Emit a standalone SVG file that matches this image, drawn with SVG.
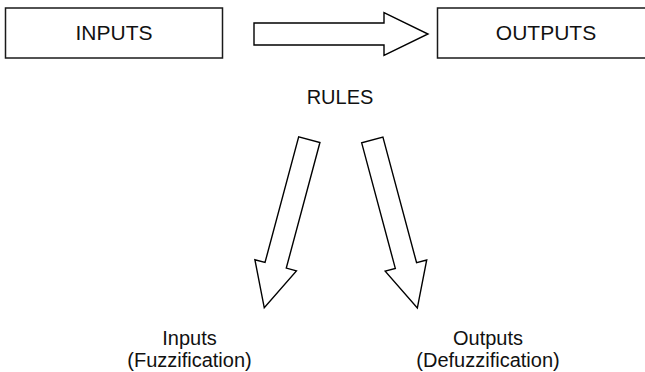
<svg xmlns="http://www.w3.org/2000/svg" width="645" height="372" viewBox="0 0 645 372">
  <style>
    .box { fill: #ffffff; stroke: #1a1a1a; stroke-width: 1.5; }
    .arrow { fill: #ffffff; stroke: #000000; stroke-width: 1.4; stroke-linejoin: miter; }
    text { font-family: "Liberation Sans", Arial, Helvetica, sans-serif; fill: #111111; text-anchor: middle; }
    .big { font-size: 21px; }
    .mid { font-size: 20px; }
  </style>
  <defs>
    <!-- block arrow: tail at origin, pointing along +x -->
    <path id="blockArrow" d="M0,-11 H130 V-21.5 L174,0 L130,21.5 V11 H0 Z"/>
  </defs>

  <rect width="645" height="372" fill="#ffffff"/>

  <g id="inputs">
    <rect class="box" x="5.5" y="8" width="217" height="50"/>
    <text class="big" x="114" y="40">INPUTS</text>
  </g>

  <g id="outputs">
    <rect class="box" x="437.5" y="8" width="217" height="50"/>
    <text class="big" x="546" y="40">OUTPUTS</text>
  </g>

  <g id="rules">
    <text class="mid" x="340" y="104">RULES</text>
  </g>

  <g id="fuzzification">
    <text class="mid" x="189.5" y="345">Inputs</text>
    <text class="mid" x="189.5" y="367">(Fuzzification)</text>
  </g>

  <g id="defuzzification">
    <text class="mid" x="488" y="345">Outputs</text>
    <text class="mid" x="488" y="367">(Defuzzification)</text>
  </g>

  <g id="connectors">
    <use href="#blockArrow" class="arrow" transform="translate(254,34)"/>
    <use href="#blockArrow" class="arrow" transform="translate(309.3,139.7) rotate(105)"/>
    <use href="#blockArrow" class="arrow" transform="translate(372.3,140) rotate(75)"/>
  </g>
</svg>
